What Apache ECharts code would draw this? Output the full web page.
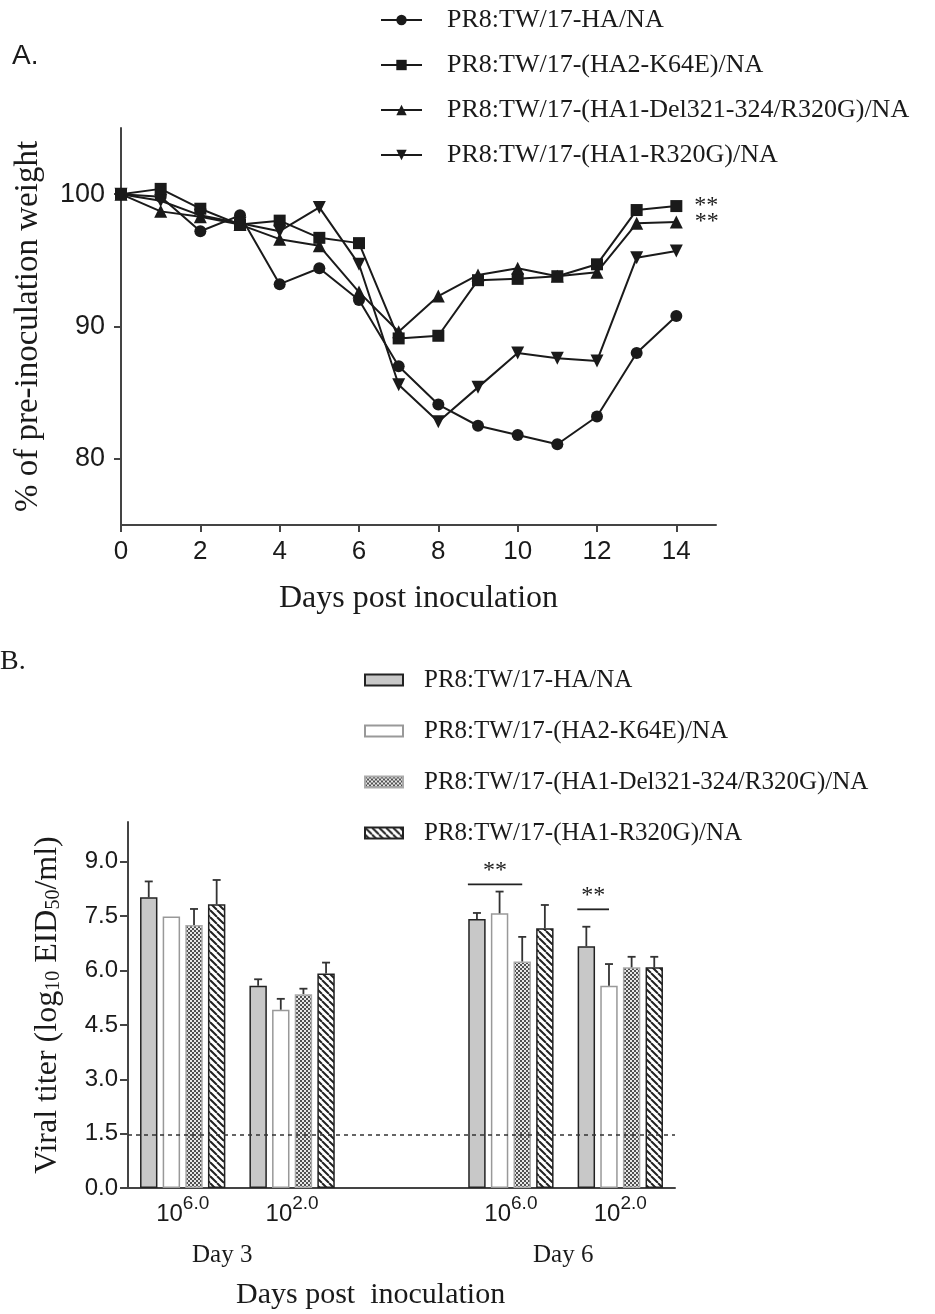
<!DOCTYPE html>
<html>
<head>
<meta charset="utf-8">
<title>Weight loss and viral titer</title>
<script src="https://cdn.jsdelivr.net/npm/echarts@6/dist/echarts.min.js"></script>
<style>
  html, body { margin: 0; padding: 0; background: #fff; }
  #chart { width: 935px; height: 1314px; }
</style>
</head>
<body>
<div id="chart"></div>
<script>
// ---- panel A: body weight (% of pre-inoculation) ----
const days = [0, 1, 2, 3, 4, 5, 6, 7, 8, 9, 10, 11, 12, 13, 14]
const wtHA = [100, 99.8, 97.2, 98.4, 93.2, 94.4, 92.0, 87.0, 84.1, 82.5, 81.8, 81.1, 83.2, 88.0, 90.8]
const wtK64E = [100, 100.4, 98.9, 97.7, 98.0, 96.7, 96.3, 89.1, 89.3, 93.5, 93.6, 93.8, 94.7, 98.8, 99.1]
const wtDel = [100, 98.7, 98.3, 97.7, 96.6, 96.1, 92.6, 89.6, 92.3, 93.9, 94.4, 93.8, 94.1, 97.8, 97.9]
const wtR320G = [100, 99.5, 98.4, 97.8, 97.2, 99.0, 94.7, 85.6, 82.8, 85.4, 88.0, 87.6, 87.4, 95.2, 95.7]
const strainNames = [
  'PR8:TW/17-HA/NA',
  'PR8:TW/17-(HA2-K64E)/NA',
  'PR8:TW/17-(HA1-Del321-324/R320G)/NA',
  'PR8:TW/17-(HA1-R320G)/NA'
]
const endMarks = ['', '**', '**', '']   // significance at day 14
const dayTicks = [0, 2, 4, 6, 8, 10, 12, 14]
const weightTicks = [80, 90, 100]

// ---- panel B: viral titer ----
const doseCats = ['d3^6.0', 'd3^2.0', 'gap', 'd6^6.0', 'd6^2.0']
const titerHA = [8.02, 5.58, null, 7.42, 6.67]
const titerK64E = [7.49, 4.92, null, 7.58, 5.58]
const titerDel = [7.26, 5.35, null, 6.25, 6.09]
const titerR320G = [7.83, 5.92, null, 7.17, 6.09]
const errHA = [0.44, 0.18, null, 0.17, 0.54]
const errK64E = [0, 0.30, null, 0.60, 0.60]
const errDel = [0.44, 0.15, null, 0.68, 0.29]
const errR320G = [0.67, 0.30, null, 0.64, 0.29]
const titerTicks = [0, 1.5, 3, 4.5, 6, 7.5, 9]
const detectLimit = 1.47
// [category, line value, from bar, to bar]
const sigLines = [[3, 8.38, -0.4, 2], [4, 7.69, -0.4, 1]]

const SANS = 'Liberation Sans'
const SERIF = 'Liberation Serif'
const INK = '#1a1a1a'
const AXIS = '#444'
const CAT_GAP = 0.22
const BAR_GAP = 0.3

function checker() {
  const c = document.createElement('canvas')
  c.width = 4; c.height = 4
  const g = c.getContext('2d')
  g.fillStyle = '#e8e8e8'; g.fillRect(0, 0, 4, 4)
  g.fillStyle = '#505050'; g.fillRect(0, 0, 2, 2); g.fillRect(2, 2, 2, 2)
  return c
}
function hatch() {
  const c = document.createElement('canvas')
  c.width = 7; c.height = 7
  const g = c.getContext('2d')
  g.fillStyle = '#fff'; g.fillRect(0, 0, 7, 7)
  g.strokeStyle = '#222'; g.lineWidth = 2
  g.beginPath()
  for (let o = -7; o <= 7; o += 7) { g.moveTo(o, 0); g.lineTo(o + 7, 7) }
  g.stroke()
  return c
}

// offset of bar k (fractional allowed) from category centre, same rule as the bar layout
function barOffset(api, k) {
  const band = api.size([1, 0])[0]
  const groupW = band * (1 - CAT_GAP)
  const bw = groupW / (4 + 3 * BAR_GAP)
  return -groupW / 2 + bw / 2 + k * bw * (1 + BAR_GAP)
}

const symbols = [
  { symbol: 'circle', size: 12, rotate: 0 },
  { symbol: 'rect', size: 12, rotate: 0 },
  { symbol: 'triangle', size: 13, rotate: 0 },
  { symbol: 'triangle', size: 13, rotate: 180 }
]
const weights = [wtHA, wtK64E, wtDel, wtR320G]
const lineSeries = weights.map((arr, s) => ({
  name: strainNames[s],
  type: 'line',
  xAxisIndex: 0, yAxisIndex: 0,
  symbol: symbols[s].symbol,
  symbolSize: symbols[s].size,
  symbolRotate: symbols[s].rotate,
  lineStyle: { color: INK, width: 2 },
  itemStyle: { color: INK },
  data: arr.map((v, i) => {
    if (i === arr.length - 1 && endMarks[s]) {
      return {
        value: [days[i], v],
        label: { show: true, position: 'right', distance: 12, formatter: endMarks[s],
          fontFamily: SERIF, fontSize: 24, color: INK }
      }
    }
    return [days[i], v]
  })
}))

const titers = [titerHA, titerK64E, titerDel, titerR320G]
const errs = [errHA, errK64E, errDel, errR320G]
const barStyles = [
  { color: '#c8c8c8', borderColor: '#222', borderWidth: 1.5 },
  { color: '#fff', borderColor: '#999', borderWidth: 1.5 },
  { color: { image: checker(), repeat: 'repeat' }, borderColor: '#aaa', borderWidth: 1.5 },
  { color: { image: hatch(), repeat: 'repeat' }, borderColor: '#222', borderWidth: 1.5 }
]
const barSeries = titers.map((arr, s) => ({
  name: 'B:' + strainNames[s],
  type: 'bar',
  xAxisIndex: 1, yAxisIndex: 1,
  barCategoryGap: (CAT_GAP * 100) + '%',
  barGap: (BAR_GAP * 100) + '%',
  itemStyle: barStyles[s],
  data: arr
}))
barSeries[0].markLine = {
  silent: true,
  symbol: 'none',
  label: { show: false },
  lineStyle: { color: '#333', type: [4, 4], width: 1.5 },
  data: [{ yAxis: detectLimit }]
}

const errData = []
titers.forEach((arr, s) => {
  arr.forEach((v, i) => {
    if (v != null && errs[s][i]) errData.push([i, v, errs[s][i], s])
  })
})

const option = {
  animation: false,
  backgroundColor: '#fff',
  textStyle: { fontFamily: SANS },
  graphic: [
    { type: 'text', left: 12, top: 42, style: { text: 'A.', font: '28px ' + SANS, fill: INK } },
    { type: 'text', left: 0, top: 648, style: { text: 'B.', font: '28px ' + SERIF, fill: INK } },
    { type: 'text', left: 192, top: 1243, style: { text: 'Day 3', font: '25px ' + SERIF, fill: INK } },
    { type: 'text', left: 533, top: 1243, style: { text: 'Day 6', font: '25px ' + SERIF, fill: INK } },
    { type: 'text', left: 236, top: 1280, style: { text: 'Days post  inoculation', font: '30px ' + SERIF, fill: INK } }
  ],
  legend: [
    {
      data: strainNames,
      orient: 'vertical',
      left: 380, top: 7,
      padding: 0,
      itemWidth: 41, itemHeight: 13,
      itemGap: 19,
      selectedMode: false,
      textStyle: { fontFamily: SERIF, fontSize: 26, color: INK, lineHeight: 26, padding: [0, 0, 0, 20] }
    },
    {
      data: strainNames.map(n => 'B:' + n),
      orient: 'vertical',
      left: 364, top: 667,
      padding: 0,
      icon: 'rect',
      itemWidth: 38, itemHeight: 11,
      itemGap: 25,
      selectedMode: false,
      formatter: n => n.replace(/^B:/, ''),
      textStyle: { fontFamily: SERIF, fontSize: 25, color: INK, lineHeight: 26, padding: [0, 0, 0, 16] }
    }
  ],
  grid: [
    { left: 121, top: 128, width: 595, height: 397 },
    { left: 128, top: 822, width: 547, height: 366 }
  ],
  xAxis: [
    {
      gridIndex: 0,
      type: 'value',
      min: 0, max: 15,
      name: 'Days post inoculation',
      nameLocation: 'middle',
      nameGap: 58,
      nameTextStyle: { fontFamily: SERIF, fontSize: 32, color: INK },
      axisLine: { lineStyle: { color: AXIS, width: 2 } },
      axisTick: { length: 7, lineStyle: { color: AXIS, width: 2 }, customValues: dayTicks },
      axisLabel: { customValues: dayTicks, fontFamily: SANS, fontSize: 26, color: INK, margin: 14 },
      splitLine: { show: false }
    },
    {
      gridIndex: 1,
      type: 'category',
      data: doseCats,
      axisLine: { lineStyle: { color: AXIS, width: 2 } },
      axisTick: { alignWithLabel: true, interval: 0, length: 8, lineStyle: { color: AXIS, width: 2 } },
      axisLabel: {
        interval: 0,
        margin: 6,
        formatter: v => {
          const p = v.split('^')
          return p.length > 1 ? '{b|10}{s|' + p[1] + '}' : ''
        },
        rich: {
          b: { fontFamily: SANS, fontSize: 24, color: INK, lineHeight: 32, verticalAlign: 'bottom' },
          s: { fontFamily: SANS, fontSize: 19, color: INK, lineHeight: 32, verticalAlign: 'top' }
        }
      },
      splitLine: { show: false }
    }
  ],
  yAxis: [
    {
      gridIndex: 0,
      type: 'value',
      min: 75, max: 105,
      name: '% of pre-inoculation weight',
      nameLocation: 'middle',
      nameGap: 76,
      nameTextStyle: { fontFamily: SERIF, fontSize: 33, color: INK },
      axisLine: { show: true, lineStyle: { color: AXIS, width: 2 } },
      axisTick: { show: true, length: 7, lineStyle: { color: AXIS, width: 2 }, customValues: weightTicks },
      axisLabel: { customValues: weightTicks, fontFamily: SANS, fontSize: 27, color: INK, margin: 16 },
      splitLine: { show: false }
    },
    {
      gridIndex: 1,
      type: 'value',
      min: 0, max: 10.1,
      name: 'Viral titer (log{sub|10} EID{sub|50}/ml)',
      nameLocation: 'middle',
      nameGap: 64,
      nameTextStyle: {
        fontFamily: SERIF, fontSize: 32, color: INK,
        rich: { sub: { fontFamily: SERIF, fontSize: 20, color: INK, verticalAlign: 'bottom' } }
      },
      axisLine: { show: true, lineStyle: { color: AXIS, width: 2 } },
      axisTick: { show: true, length: 8, lineStyle: { color: AXIS, width: 2 }, customValues: titerTicks },
      axisLabel: { customValues: titerTicks, formatter: v => v.toFixed(1), fontFamily: SANS, fontSize: 24, color: INK, margin: 10 },
      splitLine: { show: false }
    }
  ],
  series: [
    ...lineSeries,
    ...barSeries,
    {
      type: 'custom',
      name: 'error',
      xAxisIndex: 1, yAxisIndex: 1,
      z: 5,
      silent: true,
      data: errData,
      renderItem: (params, api) => {
        const cat = api.value(0)
        const v = api.value(1)
        const e = api.value(2)
        const k = api.value(3)
        const base = api.coord([cat, v])
        const x = base[0] + barOffset(api, k)
        const top = api.coord([cat, v + e])[1]
        const st = { stroke: '#333', lineWidth: 1.8 }
        return {
          type: 'group',
          children: [
            { type: 'line', shape: { x1: x, y1: base[1], x2: x, y2: top }, style: st },
            { type: 'line', shape: { x1: x - 4, y1: top, x2: x + 4, y2: top }, style: st }
          ]
        }
      }
    },
    {
      type: 'custom',
      name: 'significance',
      xAxisIndex: 1, yAxisIndex: 1,
      z: 5,
      silent: true,
      data: sigLines,
      renderItem: (params, api) => {
        const cat = api.value(0)
        const p = api.coord([cat, api.value(1)])
        const x1 = p[0] + barOffset(api, api.value(2))
        const x2 = p[0] + barOffset(api, api.value(3))
        return {
          type: 'group',
          children: [
            { type: 'line', shape: { x1: x1, y1: p[1], x2: x2, y2: p[1] }, style: { stroke: '#222', lineWidth: 1.8 } },
            { type: 'text', x: (x1 + x2) / 2, y: p[1] - 2,
              style: { text: '**', font: '24px ' + SERIF, fill: INK, align: 'center', verticalAlign: 'bottom' } }
          ]
        }
      }
    }
  ]
}

const myChart = echarts.init(document.getElementById('chart'))
myChart.setOption(option)
</script>
</body>
</html>
